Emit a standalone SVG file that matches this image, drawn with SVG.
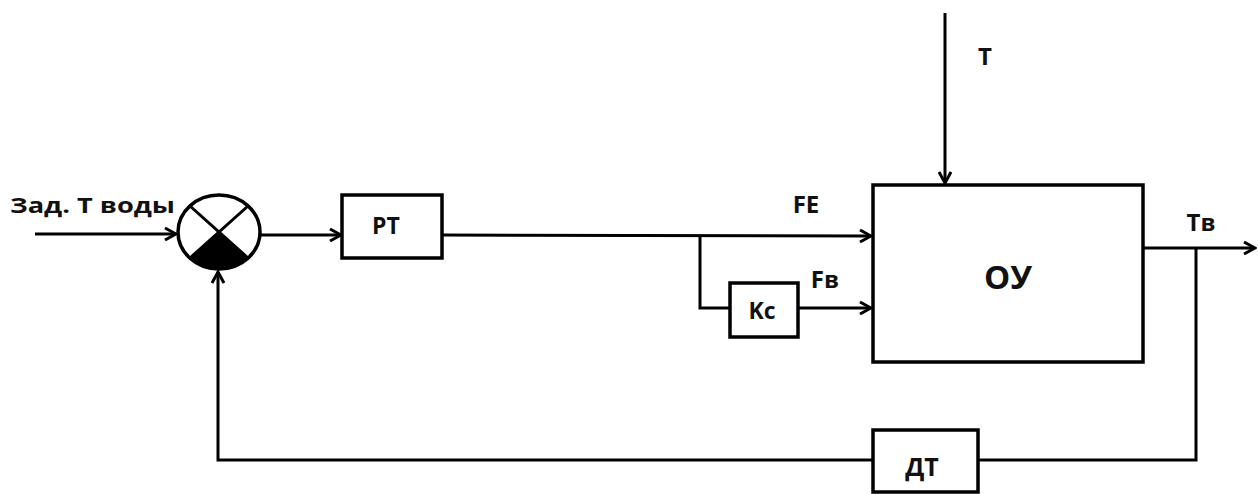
<svg xmlns="http://www.w3.org/2000/svg" width="1258" height="494" viewBox="0 0 1258 494">
<defs>
<marker id="arr" markerWidth="14" markerHeight="14" refX="12" refY="7" orient="auto" markerUnits="userSpaceOnUse">
<path d="M1,1 L12,7 L1,13" fill="none" stroke="#000" stroke-width="3"/>
</marker>
<style>
.ln{fill:none;stroke:#000;stroke-width:3;}
.bx{fill:#fff;stroke:#000;stroke-width:3.5;}
.t{font-family:"Open Sans","Liberation Sans",sans-serif;font-weight:bold;fill:#111;}
</style>
</defs>
<rect width="1258" height="494" fill="#fff"/>
<g id="connectors">
<line class="ln" x1="35" y1="234" x2="176" y2="234" marker-end="url(#arr)"/>
<line class="ln" x1="260" y1="235" x2="341" y2="235" marker-end="url(#arr)"/>
<line class="ln" x1="442" y1="235" x2="871" y2="236" marker-end="url(#arr)"/>
<polyline class="ln" points="700,235 700,308 730,308"/>
<line class="ln" x1="798" y1="308" x2="871" y2="308" marker-end="url(#arr)"/>
<line class="ln" x1="945" y1="13" x2="945" y2="183" marker-end="url(#arr)"/>
<line class="ln" x1="1143" y1="248" x2="1255" y2="248" marker-end="url(#arr)"/>
<polyline class="ln" points="1196,248 1196,460 978,460"/>
<polyline class="ln" points="873,460 218,460 218,272" marker-end="url(#arr)"/>
</g>
<g id="sum">
<ellipse cx="219" cy="232" rx="41" ry="37" fill="#fff" stroke="#000" stroke-width="3.5"/>
<path d="M219,232 L248,258 A41,37 0 0 1 190,258 Z" fill="#000"/>
<line class="ln" x1="190" y1="206" x2="248" y2="258"/>
<line class="ln" x1="248" y1="206" x2="190" y2="258"/>
</g>
<g id="PT">
<rect class="bx" x="342" y="195" width="100" height="63"/>
<text class="t" x="386" y="234" font-size="23" text-anchor="middle">PT</text>
</g>
<g id="Kc">
<rect class="bx" x="730" y="283" width="68" height="54"/>
<text class="t" x="762" y="319" font-size="23" text-anchor="middle">Kc</text>
</g>
<g id="OY">
<rect class="bx" x="873" y="185" width="270" height="177"/>
<text class="t" x="1008" y="289" font-size="33" text-anchor="middle">OУ</text>
</g>
<g id="DT">
<rect class="bx" x="873" y="430" width="105" height="62"/>
<text class="t" x="922" y="476" font-size="25" text-anchor="middle">ДТ</text>
</g>
<g id="labels">
<text class="t" x="10" y="213" font-size="22" textLength="165" lengthAdjust="spacingAndGlyphs">Зад. T воды</text>
<text class="t" x="806" y="213" font-size="24" text-anchor="middle">FE</text>
<text class="t" x="825" y="288" font-size="24" text-anchor="middle">Fв</text>
<text class="t" x="985" y="65" font-size="24" text-anchor="middle">T</text>
<text class="t" x="1201" y="231" font-size="24" text-anchor="middle">Tв</text>
</g>
</svg>
